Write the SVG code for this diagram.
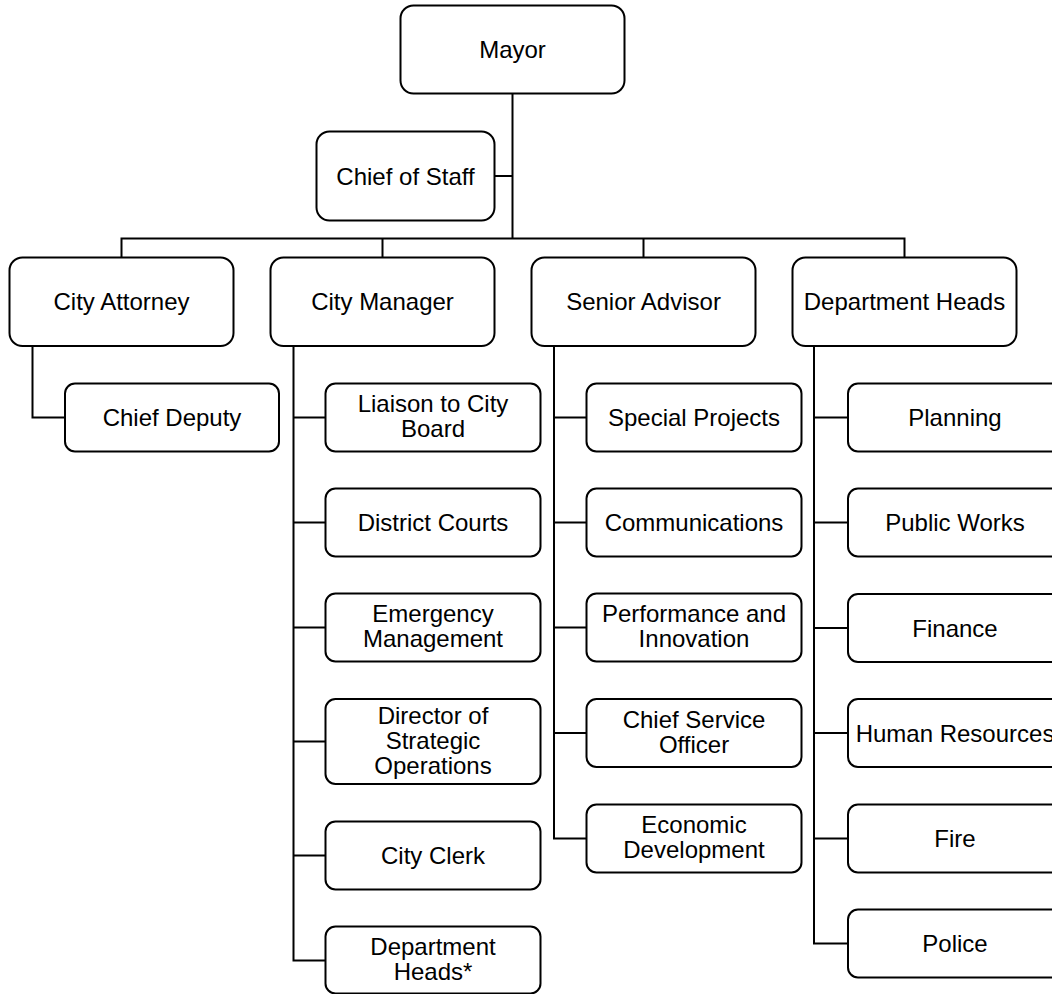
<svg xmlns="http://www.w3.org/2000/svg" width="1052" height="994" viewBox="0 0 1052 994">
  <style>
    .box { fill: #ffffff; stroke: #000000; stroke-width: 2; }
    .big { rx: 13; ry: 13; }
    .small { rx: 10; ry: 10; }
    .lbl { font-family: "Liberation Sans", Arial, sans-serif; font-size: 24px; fill: #000000; text-anchor: middle; }
    .wire { fill: none; stroke: #000000; stroke-width: 2; }
  </style>
  <rect x="0" y="0" width="1052" height="994" fill="#ffffff"/>

  <!-- connectors -->
  <g id="connectors" class="wire">
    <path d="M512.5 93.5 V238.5"/>
    <path d="M494.5 176 H512.5"/>
    <path d="M121.5 257.5 V238.5 H904.5 V257.5"/>
    <path d="M382.5 238.5 V257.5"/>
    <path d="M643.5 238.5 V257.5"/>
    <!-- City Attorney branch -->
    <path d="M32.5 346 V417.5 H65"/>
    <!-- City Manager branch -->
    <path d="M293.5 346 V960.5 H325.5"/>
    <path d="M293.5 417.5 H325.5"/>
    <path d="M293.5 522.5 H325.5"/>
    <path d="M293.5 627.5 H325.5"/>
    <path d="M293.5 741.5 H325.5"/>
    <path d="M293.5 855.5 H325.5"/>
    <!-- Senior Advisor branch -->
    <path d="M554 346 V838.5 H586.5"/>
    <path d="M554 417.5 H586.5"/>
    <path d="M554 522.5 H586.5"/>
    <path d="M554 627.5 H586.5"/>
    <path d="M554 733 H586.5"/>
    <!-- Department Heads branch -->
    <path d="M814 346 V943.5 H848"/>
    <path d="M814 417.5 H848"/>
    <path d="M814 522.5 H848"/>
    <path d="M814 628 H848"/>
    <path d="M814 733 H848"/>
    <path d="M814 838.5 H848"/>
  </g>

  <!-- top level -->
  <g id="mayor">
    <rect class="box big" x="400.5" y="5.5" width="224" height="88"/>
    <text class="lbl" x="512.5" y="58">Mayor</text>
  </g>
  <g id="chief-of-staff">
    <rect class="box big" x="316.5" y="131.5" width="178" height="89"/>
    <text class="lbl" x="405.5" y="184.5">Chief of Staff</text>
  </g>

  <!-- second level -->
  <g id="city-attorney">
    <rect class="box big" x="9.5" y="257.5" width="224" height="88.5"/>
    <text class="lbl" x="121.5" y="310">City Attorney</text>
  </g>
  <g id="city-manager">
    <rect class="box big" x="270.5" y="257.5" width="224" height="88.5"/>
    <text class="lbl" x="382.5" y="310">City Manager</text>
  </g>
  <g id="senior-advisor">
    <rect class="box big" x="531.5" y="257.5" width="224" height="88.5"/>
    <text class="lbl" x="643.5" y="310">Senior Advisor</text>
  </g>
  <g id="department-heads">
    <rect class="box big" x="792.5" y="257.5" width="224" height="88.5"/>
    <text class="lbl" x="904.5" y="310">Department Heads</text>
  </g>

  <!-- City Attorney reports -->
  <g id="chief-deputy">
    <rect class="box small" x="65" y="383.5" width="214" height="68"/>
    <text class="lbl" x="172" y="426">Chief Deputy</text>
  </g>

  <!-- City Manager reports -->
  <g id="liaison">
    <rect class="box small" x="325.5" y="383.5" width="215" height="68"/>
    <text class="lbl" x="433" y="412">Liaison to City</text>
    <text class="lbl" x="433" y="437">Board</text>
  </g>
  <g id="district-courts">
    <rect class="box small" x="325.5" y="488.5" width="215" height="68"/>
    <text class="lbl" x="433" y="531">District Courts</text>
  </g>
  <g id="emergency-management">
    <rect class="box small" x="325.5" y="593.5" width="215" height="68"/>
    <text class="lbl" x="433" y="622">Emergency</text>
    <text class="lbl" x="433" y="647">Management</text>
  </g>
  <g id="strategic-operations">
    <rect class="box small" x="325.5" y="699" width="215" height="85"/>
    <text class="lbl" x="433" y="723.5">Director of</text>
    <text class="lbl" x="433" y="748.5">Strategic</text>
    <text class="lbl" x="433" y="773.5">Operations</text>
  </g>
  <g id="city-clerk">
    <rect class="box small" x="325.5" y="821.5" width="215" height="68"/>
    <text class="lbl" x="433" y="864">City Clerk</text>
  </g>
  <g id="cm-department-heads">
    <rect class="box small" x="325.5" y="926.5" width="215" height="67"/>
    <text class="lbl" x="433" y="955">Department</text>
    <text class="lbl" x="433" y="980">Heads*</text>
  </g>

  <!-- Senior Advisor reports -->
  <g id="special-projects">
    <rect class="box small" x="586.5" y="383.5" width="215" height="68"/>
    <text class="lbl" x="694" y="426">Special Projects</text>
  </g>
  <g id="communications">
    <rect class="box small" x="586.5" y="488.5" width="215" height="68"/>
    <text class="lbl" x="694" y="531">Communications</text>
  </g>
  <g id="performance-innovation">
    <rect class="box small" x="586.5" y="593.5" width="215" height="68"/>
    <text class="lbl" x="694" y="622">Performance and</text>
    <text class="lbl" x="694" y="647">Innovation</text>
  </g>
  <g id="chief-service-officer">
    <rect class="box small" x="586.5" y="699" width="215" height="68"/>
    <text class="lbl" x="694" y="727.5">Chief Service</text>
    <text class="lbl" x="694" y="752.5">Officer</text>
  </g>
  <g id="economic-development">
    <rect class="box small" x="586.5" y="804.5" width="215" height="68"/>
    <text class="lbl" x="694" y="833">Economic</text>
    <text class="lbl" x="694" y="858">Development</text>
  </g>

  <!-- Department Heads reports -->
  <g id="planning">
    <rect class="box small" x="848" y="383.5" width="214" height="68"/>
    <text class="lbl" x="955" y="426">Planning</text>
  </g>
  <g id="public-works">
    <rect class="box small" x="848" y="488.5" width="214" height="68"/>
    <text class="lbl" x="955" y="531">Public Works</text>
  </g>
  <g id="finance">
    <rect class="box small" x="848" y="594" width="214" height="68"/>
    <text class="lbl" x="955" y="636.5">Finance</text>
  </g>
  <g id="human-resources">
    <rect class="box small" x="848" y="699" width="214" height="68"/>
    <text class="lbl" x="955" y="741.5">Human Resources</text>
  </g>
  <g id="fire">
    <rect class="box small" x="848" y="804.5" width="214" height="68"/>
    <text class="lbl" x="955" y="847">Fire</text>
  </g>
  <g id="police">
    <rect class="box small" x="848" y="909.5" width="214" height="68"/>
    <text class="lbl" x="955" y="952">Police</text>
  </g>
</svg>
